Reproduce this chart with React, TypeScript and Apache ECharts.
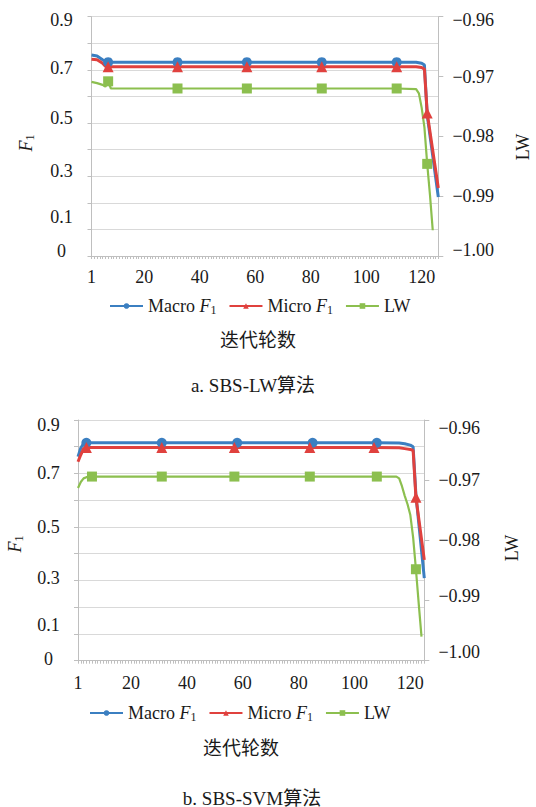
import React, { useEffect, useRef } from 'react';
import * as echarts from 'echarts';

const SERIF = "'Liberation Serif', 'Times New Roman', 'Noto Sans CJK SC', serif";
const BLUE = '#3b7fc1';
const RED = '#e0413e';
const GREEN = '#8cbf4f';
const TEXT = '#1a1a1a';
const AXIS = '#bfbfbf';
const GRID = '#d9d9d9';

// ---------- chart a: SBS-LW ----------
const aCategories = Array.from({ length: 126 }, (_, k) => String(k + 1));
const aMacroX = [1, 3, 5, 7, 32, 57, 84, 111, 118, 120, 121, 122, 126];
const aMacroY = [0.756, 0.752, 0.738, 0.729, 0.729, 0.729, 0.729, 0.729, 0.729, 0.725, 0.718, 0.53, 0.222];
const aMacroMarks = [7, 32, 57, 84, 111];
const aMicroX = [1, 3, 5, 6, 7, 32, 57, 84, 111, 118, 120, 121, 122, 126];
const aMicroY = [0.74, 0.738, 0.725, 0.714, 0.712, 0.712, 0.712, 0.712, 0.712, 0.712, 0.709, 0.703, 0.538, 0.256];
const aMicroMarks = [7, 32, 57, 84, 111, 122];
const aLwX = [1, 3, 5, 6, 7, 8, 32, 57, 84, 111, 118, 119, 120, 121, 122, 123, 124];
const aLwY = [-0.9709, -0.9711, -0.9714, -0.9717, -0.9708, -0.972, -0.972, -0.972, -0.972, -0.972, -0.9721, -0.9728, -0.9752, -0.9785, -0.9846, -0.9898, -0.9957];
const aLwMarks = [7, 32, 57, 84, 111, 122];

// ---------- chart b: SBS-SVM ----------
const bCategories = Array.from({ length: 125 }, (_, k) => String(k + 1));
const bMacroX = [1, 2, 3, 4, 31, 58, 85, 108, 116, 118, 120, 121, 122, 125];
const bMacroY = [0.763, 0.795, 0.812, 0.815, 0.815, 0.815, 0.815, 0.815, 0.814, 0.811, 0.806, 0.8, 0.62, 0.309];
const bMacroMarks = [4, 31, 58, 85, 108];
const bMicroX = [1, 2, 3, 4, 31, 57, 84, 107, 116, 118, 120, 121, 122, 125];
const bMicroY = [0.744, 0.77, 0.793, 0.797, 0.797, 0.797, 0.797, 0.797, 0.796, 0.793, 0.79, 0.786, 0.611, 0.377];
const bMicroMarks = [4, 31, 57, 84, 107, 122];
const bLwX = [1, 2, 3, 4, 6, 31, 57, 84, 108, 115, 116, 117, 118, 119, 120, 121, 122, 123, 124];
const bLwY = [-0.9713, -0.9703, -0.9697, -0.9695, -0.9694, -0.9694, -0.9694, -0.9694, -0.9694, -0.9694, -0.9697, -0.971, -0.9726, -0.974, -0.9758, -0.9795, -0.9848, -0.9905, -0.996];
const bLwMarks = [6, 31, 57, 84, 108, 122];

// axis tick label texts
const f1Labels = ['0', '0.1', '0.3', '0.5', '0.7', '0.9'];

// label vertical nudges (style)
const leftShiftA: Record<string, number> = { '0.9': 3, '0.7': -2, '0.5': -5, '0.3': -5, '0.1': -12, '0': -5 };
const leftShiftB: Record<string, number> = { '0.9': 5, '0.7': 0, '0.5': 0, '0.3': -2, '0.1': -9, '0': -2 };
const rightShiftA: Record<string, number> = { '−0.96': 3, '−1.00': -6 };
const rightShiftB: Record<string, number> = { '−0.96': 8, '−0.99': -5, '−1.00': -9 };

const tag = (s: number) => (s >= 0 ? 'd' + s : 'u' + -s);
const makeRich = () => {
  const r: Record<string, any> = {};
  for (let s = -15; s <= 15; s++) {
    r[tag(s)] = {
      fontFamily: SERIF,
      fontSize: 18,
      color: TEXT,
      padding: s >= 0 ? [2 * s, 0, 0, 0] : [0, 0, -2 * s, 0],
    };
  }
  return r;
};
const RICH = makeRich();

const leftFmt = (shifts: Record<string, number>) => (v: number) => {
  const k = Math.round(v * 10);
  const t = k === 0 ? '0' : (k / 10).toFixed(1);
  if (!f1Labels.includes(t)) return '';
  return `{${tag(shifts[t] || 0)}|${t}}`;
};
const rightFmt = (shifts: Record<string, number>) => (v: number) => {
  const t = '−' + Math.abs(v).toFixed(2);
  return `{${tag(shifts[t] || 0)}|${t}}`;
};

const build = (xs: number[], ys: number[], marks: number[]) =>
  xs.map((x, k) =>
    marks.includes(x) ? { value: [String(x), ys[k]] } : { value: [String(x), ys[k]], symbol: 'none' }
  );

const legendNames: Record<string, string> = {
  'Macro F1': 'Macro {i|F}{s|1}',
  'Micro F1': 'Micro {i|F}{s|1}',
  LW: 'LW',
};

const subRich = {
  i: { fontFamily: SERIF, fontSize: 18, fontStyle: 'italic', color: TEXT },
  s: { fontFamily: SERIF, fontSize: 12, color: TEXT, padding: [9, 0, 0, 0] },
};

export default function App() {
  const ref = useRef<HTMLDivElement>(null);
  useEffect(() => {
    if (!ref.current) return;
    const chart = echarts.init(ref.current, undefined, { renderer: 'svg' });

    const xAxisBase = (data: string[], gridIndex: number, margin: number) => ({
      gridIndex,
      type: 'category',
      data,
      boundaryGap: false,
      axisLine: { show: true, lineStyle: { color: AXIS, width: 1 } },
      axisTick: { show: true, interval: 0, length: 3, lineStyle: { color: AXIS } },
      axisLabel: {
        interval: (_i: number, v: string) => v === '1' || Number(v) % 20 === 0,
        margin,
        fontSize: 18,
        fontFamily: SERIF,
        color: TEXT,
      },
      splitLine: { show: false },
    });
    const leftAxis = (gridIndex: number, shifts: Record<string, number>, margin: number) => ({
      gridIndex,
      type: 'value',
      min: 0,
      max: 0.9,
      interval: 0.1,
      axisLine: { show: true, lineStyle: { color: AXIS } },
      axisTick: { show: true, length: 4, lineStyle: { color: AXIS } },
      splitLine: { show: true, lineStyle: { color: GRID, width: 1 } },
      axisLabel: { formatter: leftFmt(shifts), align: 'center', margin, rich: RICH },
    });
    const rightAxis = (gridIndex: number, shifts: Record<string, number>) => ({
      gridIndex,
      type: 'value',
      position: 'right',
      min: -1,
      max: -0.96,
      interval: 0.01,
      axisLine: { show: true, lineStyle: { color: AXIS } },
      axisTick: { show: true, length: 5, lineStyle: { color: AXIS } },
      splitLine: { show: false },
      axisLabel: { formatter: rightFmt(shifts), align: 'center', margin: 35, rich: RICH },
    });
    const line = (
      name: string,
      color: string,
      symbol: string,
      size: number,
      width: number,
      xi: number,
      yi: number,
      data: any[]
    ) => ({
      name,
      type: 'line',
      xAxisIndex: xi,
      yAxisIndex: yi,
      data,
      symbol,
      symbolSize: size,
      showSymbol: true,
      showAllSymbol: true,
      lineStyle: { color, width },
      itemStyle: { color },
      silent: true,
    });
    const legend = (left: number, top: number) => ({
      left,
      top,
      itemWidth: 33,
      itemHeight: 7,
      itemGap: 12,
      selectedMode: false,
      data: ['Macro F1', 'Micro F1', 'LW'],
      formatter: (n: string) => legendNames[n],
      textStyle: { fontFamily: SERIF, fontSize: 18, color: TEXT, rich: subRich },
    });
    const txt = (text: string, x: number, y: number, size: number, rotation = 0) => ({
      type: 'text',
      x,
      y,
      rotation,
      style: {
        text,
        fontFamily: SERIF,
        fontSize: size,
        fill: TEXT,
        align: 'center',
        verticalAlign: 'middle',
        rich: subRich,
      },
    });

    chart.setOption({
      animation: false,
      backgroundColor: '#ffffff',
      grid: [
        { left: 91.5, top: 16.7, width: 346.8, height: 239.3 },
        { left: 78, top: 420, width: 346.3, height: 240.7 },
      ],
      xAxis: [xAxisBase(aCategories, 0, 12), xAxisBase(bCategories, 1, 13)],
      yAxis: [leftAxis(0, leftShiftA, 30), rightAxis(0, rightShiftA), leftAxis(1, leftShiftB, 29.5), rightAxis(1, rightShiftB)],
      legend: [legend(104, 292), legend(84, 699)],
      series: [
        line('Macro F1', BLUE, 'circle', 10, 3, 0, 0, build(aMacroX, aMacroY, aMacroMarks)),
        line('Micro F1', RED, 'triangle', 11, 3, 0, 0, build(aMicroX, aMicroY, aMicroMarks)),
        line('LW', GREEN, 'rect', 10, 2.2, 0, 1, build(aLwX, aLwY, aLwMarks)),
        line('Macro F1', BLUE, 'circle', 10, 3, 1, 2, build(bMacroX, bMacroY, bMacroMarks)),
        line('Micro F1', RED, 'triangle', 11, 3, 1, 2, build(bMicroX, bMicroY, bMicroMarks)),
        line('LW', GREEN, 'rect', 10, 2.2, 1, 3, build(bLwX, bLwY, bLwMarks)),
      ],
      graphic: [
        txt('{i|F}{s|1}', 25.6, 143, 18, Math.PI / 2),
        txt('LW', 523, 147, 18, Math.PI / 2),
        txt('迭代轮数', 258, 340, 19),
        txt('a. SBS-LW算法', 253, 385, 19),
        txt('{i|F}{s|1}', 14.5, 544, 18, Math.PI / 2),
        txt('LW', 512, 548, 18, Math.PI / 2),
        txt('迭代轮数', 241, 748, 19),
        txt('b. SBS-SVM算法', 252, 798, 19),
      ],
    });
    return () => chart.dispose();
  }, []);
  return (
    <div
      ref={ref}
      style={{ position: 'absolute', left: 0, top: 0, width: 536, height: 807 }}
    />
  );
}
